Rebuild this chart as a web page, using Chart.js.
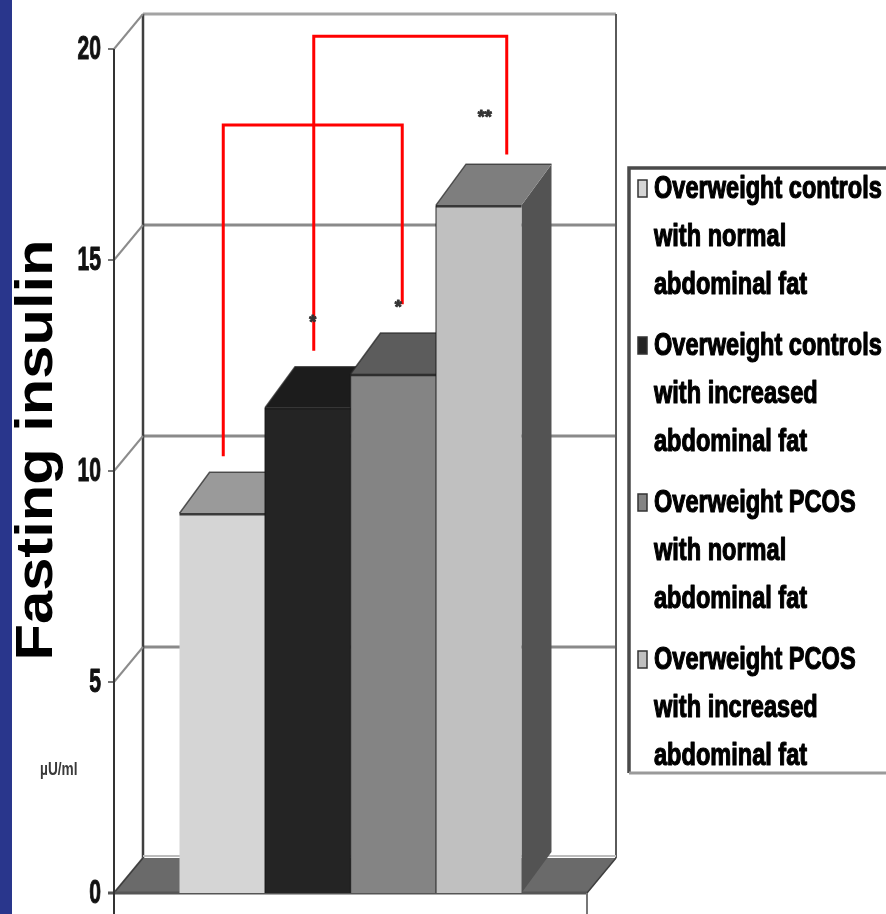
<!DOCTYPE html>
<html>
<head>
<meta charset="utf-8">
<script src="https://cdn.jsdelivr.net/npm/chart.js@4.4.1/dist/chart.umd.min.js"></script>
<style>
  html, body { margin: 0; padding: 0; background: #ffffff; overflow: hidden; }
  canvas { display: block; }
</style>
</head>
<body>
<canvas id="chart" width="886" height="914"></canvas>
<script>
// ---- data ----
const categories = [''];
const seriesNameLines = [
  ['Overweight controls', 'with normal', 'abdominal fat'],
  ['Overweight controls', 'with increased', 'abdominal fat'],
  ['Overweight PCOS', 'with normal', 'abdominal fat'],
  ['Overweight PCOS', 'with increased', 'abdominal fat']
];
const insulinValues = [9.0, 11.5, 12.3, 16.3];   // µU/ml
const tickValues = [0, 5, 10, 15, 20];
const axisTitle = 'Fasting insulin';
const unitLabel = 'µU/ml';

// significance brackets: bar indices, bracket level, leg end levels (µU/ml)
const bracketPairs = [[0, 2], [1, 3]];
const bracketLevels = [18.2, 20.3];
const bracketLegEnds = [[10.35, 13.95], [12.85, 17.5]];
// asterisks above columns
const starBars = [1, 2, 3];
const starTexts = ['*', '*', '**'];
const starLevels = [13.6, 13.95, 18.45];

// ---- styling ----
const frontColors = ['#d5d5d5', '#242424', '#848484', '#c0c0c0'];
const topColors   = ['#9a9a9a', '#1c1c1c', '#5c5c5c', '#7e7e7e'];
const sideColors  = ['#6e6e6e', '#161616', '#4a4a4a', '#535353'];
const WALL = { dx: 29, dy: 35 };      // recession of back wall / floor
const COL  = { dx: 30, dy: 41 };      // recession of column tops and sides
const bracketLegShift = [[1, 9], [6, 28]];
const starShift = [5, 5, 6];
const SANS = '"Liberation Sans", Arial, Helvetica, sans-serif';

function squeezedText(ctx, text, x, y, font, sx, align, heavy) {
  ctx.save();
  ctx.font = font;
  ctx.textAlign = align || 'left';
  ctx.translate(x, y);
  ctx.scale(sx, 1);
  if (heavy) {
    ctx.strokeStyle = ctx.fillStyle;
    ctx.lineWidth = heavy;
    ctx.lineJoin = 'round';
    ctx.strokeText(text, 0, 0);
  }
  ctx.fillText(text, 0, 0);
  ctx.restore();
}

const scene3d = {
  id: 'scene3d',
  beforeDraw(chart) {
    const { ctx, chartArea: a, scales: { y } } = chart;
    const y0 = y.getPixelForValue(0);
    const yTop = y.getPixelForValue(20);
    const bl = a.left + WALL.dx, br = a.right + WALL.dx;
    ctx.save();
    // left blue band
    ctx.fillStyle = '#29368c';
    ctx.fillRect(0, 0, 12, chart.height);

    // back wall grid lines
    tickValues.forEach(v => {
      const yb = y.getPixelForValue(v) - WALL.dy;
      if (v === 0) return;
      ctx.strokeStyle = v === 20 ? '#a3a3a3' : '#8a8a8a';
      ctx.lineWidth = 3;
      ctx.beginPath(); ctx.moveTo(bl, yb); ctx.lineTo(br, yb); ctx.stroke();
    });
    // back wall edges
    ctx.strokeStyle = '#3f3f3f'; ctx.lineWidth = 2.5;
    ctx.beginPath(); ctx.moveTo(bl, yTop - WALL.dy); ctx.lineTo(bl, y0 - WALL.dy); ctx.stroke();
    ctx.strokeStyle = '#5a5a5a'; ctx.lineWidth = 2;
    ctx.beginPath(); ctx.moveTo(br, yTop - WALL.dy); ctx.lineTo(br, y0 - WALL.dy); ctx.stroke();

    // side wall depth ticks
    tickValues.forEach(v => {
      const yf = y.getPixelForValue(v);
      ctx.strokeStyle = '#8c8c8c'; ctx.lineWidth = 2;
      ctx.beginPath(); ctx.moveTo(a.left, yf); ctx.lineTo(bl, yf - WALL.dy); ctx.stroke();
      ctx.strokeStyle = '#777'; ctx.lineWidth = 2;
      ctx.beginPath(); ctx.moveTo(a.left - 6, yf); ctx.lineTo(a.left, yf); ctx.stroke();
    });

    // floor
    ctx.fillStyle = '#6a6a6a';
    ctx.beginPath();
    ctx.moveTo(a.left, y0); ctx.lineTo(a.right, y0);
    ctx.lineTo(br, y0 - WALL.dy); ctx.lineTo(bl, y0 - WALL.dy);
    ctx.closePath(); ctx.fill();
    ctx.strokeStyle = '#bdbdbd'; ctx.lineWidth = 2;
    ctx.beginPath(); ctx.moveTo(bl, y0 - WALL.dy - 2); ctx.lineTo(br, y0 - WALL.dy - 2); ctx.stroke();
    ctx.strokeStyle = '#3e3e3e'; ctx.lineWidth = 1.5;
    ctx.beginPath(); ctx.moveTo(a.left, y0); ctx.lineTo(bl, y0 - WALL.dy); ctx.stroke();
    ctx.beginPath(); ctx.moveTo(a.right, y0); ctx.lineTo(br, y0 - WALL.dy); ctx.stroke();
    ctx.strokeStyle = '#555'; ctx.lineWidth = 3;
    ctx.beginPath(); ctx.moveTo(a.left - 6, y0); ctx.lineTo(a.right, y0); ctx.stroke();
    ctx.strokeStyle = '#777'; ctx.lineWidth = 2;
    ctx.beginPath(); ctx.moveTo(a.right, y0); ctx.lineTo(a.right, chart.height); ctx.stroke();

    // front axis line
    ctx.strokeStyle = '#333'; ctx.lineWidth = 2;
    ctx.beginPath(); ctx.moveTo(a.left, yTop); ctx.lineTo(a.left, chart.height); ctx.stroke();
    ctx.restore();
  },
  beforeDatasetsDraw(chart) {
    const { ctx } = chart;
    ctx.save();
    chart.data.datasets.forEach((ds, i) => {
      const el = chart.getDatasetMeta(i).data[0];
      const L = el.x - el.width / 2, R = el.x + el.width / 2, T = el.y, B = el.base;
      // side face
      ctx.fillStyle = sideColors[i];
      ctx.beginPath();
      ctx.moveTo(R, T); ctx.lineTo(R + COL.dx, T - COL.dy);
      ctx.lineTo(R + COL.dx, B - COL.dy); ctx.lineTo(R, B);
      ctx.closePath(); ctx.fill();
      // top face
      ctx.fillStyle = topColors[i];
      ctx.beginPath();
      ctx.moveTo(L, T); ctx.lineTo(R, T);
      ctx.lineTo(R + COL.dx, T - COL.dy); ctx.lineTo(L + COL.dx, T - COL.dy);
      ctx.closePath(); ctx.fill();
      ctx.strokeStyle = 'rgba(40,40,40,0.75)'; ctx.lineWidth = 1.5;
      ctx.beginPath(); ctx.moveTo(L, T); ctx.lineTo(L + COL.dx, T - COL.dy);
      ctx.lineTo(R + COL.dx, T - COL.dy); ctx.stroke();
    });
    ctx.restore();
  },
  afterDatasetsDraw(chart) {
    const { ctx } = chart;
    ctx.save();
    chart.data.datasets.forEach((ds, i) => {
      const el = chart.getDatasetMeta(i).data[0];
      const L = el.x - el.width / 2, R = el.x + el.width / 2;
      ctx.strokeStyle = 'rgba(30,30,30,0.85)'; ctx.lineWidth = 2.5;
      ctx.beginPath(); ctx.moveTo(L, el.y + 1); ctx.lineTo(R, el.y + 1); ctx.stroke();
      if (i > 0) {
        ctx.strokeStyle = 'rgba(20,20,20,0.6)'; ctx.lineWidth = 1.5;
        ctx.beginPath(); ctx.moveTo(L, el.y); ctx.lineTo(L, el.base); ctx.stroke();
      }
    });
    ctx.restore();
  },
  afterDraw(chart) {
    const { ctx, scales: { y } } = chart;
    ctx.save();
    const barAt = i => chart.getDatasetMeta(i).data[0];

    // y tick labels
    ctx.fillStyle = '#111';
    ctx.textBaseline = 'middle';
    y.ticks.forEach(t => {
      squeezedText(ctx, String(t.value), 101, y.getPixelForValue(t.value) + 1,
        'bold 34px ' + SANS, 0.62, 'right', 1);
    });

    // significance brackets
    ctx.strokeStyle = '#ff0000'; ctx.lineWidth = 3; ctx.lineCap = 'butt'; ctx.lineJoin = 'miter';
    bracketPairs.forEach((pair, k) => {
      const xa = barAt(pair[0]).x + bracketLegShift[k][0];
      const xb = barAt(pair[1]).x + bracketLegShift[k][1];
      const yl = y.getPixelForValue(bracketLevels[k]);
      ctx.beginPath();
      ctx.moveTo(xa, y.getPixelForValue(bracketLegEnds[k][0]));
      ctx.lineTo(xa, yl); ctx.lineTo(xb, yl);
      ctx.lineTo(xb, y.getPixelForValue(bracketLegEnds[k][1]));
      ctx.stroke();
    });

    // asterisks
    ctx.fillStyle = '#333';
    ctx.textBaseline = 'middle';
    starBars.forEach((b, k) => {
      squeezedText(ctx, starTexts[k], barAt(b).x + starShift[k], y.getPixelForValue(starLevels[k]) + 4,
        'bold 18px ' + SANS, 1, 'center', 1);
    });

    // axis title
    ctx.fillStyle = '#000';
    ctx.textBaseline = 'alphabetic';
    ctx.font = 'bold 52px ' + SANS;
    const tw = ctx.measureText(axisTitle).width;
    ctx.save();
    ctx.translate(52, 450);
    ctx.rotate(-Math.PI / 2);
    ctx.scale(421 / tw, 1);
    ctx.textAlign = 'center';
    ctx.fillText(axisTitle, 0, 0);
    ctx.restore();

    // unit label
    ctx.fillStyle = '#3a3a3a';
    ctx.textBaseline = 'middle';
    squeezedText(ctx, unitLabel, 40, 770, 'bold 19px ' + SANS, 0.72, 'left');

    // legend
    const lx = 629, ly = 168, lw = 270, lh = 605;
    ctx.fillStyle = '#ffffff';
    ctx.fillRect(lx, ly, lw, lh);
    ctx.strokeStyle = '#4a4a4a'; ctx.lineWidth = 3.5;
    ctx.beginPath(); ctx.moveTo(lx, ly + lh); ctx.lineTo(lx, ly); ctx.lineTo(lx + lw, ly); ctx.stroke();
    ctx.strokeStyle = '#9a9a9a'; ctx.lineWidth = 3;
    ctx.beginPath(); ctx.moveTo(lx, ly + lh); ctx.lineTo(lx + lw, ly + lh); ctx.stroke();

    ctx.textBaseline = 'middle';
    chart.data.datasets.forEach((ds, i) => {
      const y1 = 188 + i * 157;
      ctx.fillStyle = frontColors[i];
      ctx.fillRect(638, y1 - 8, 9, 17);
      ctx.strokeStyle = '#333'; ctx.lineWidth = 1.5;
      ctx.strokeRect(638, y1 - 8, 9, 17);
      ctx.fillStyle = '#000';
      seriesNameLines[i].forEach((line, j) => {
        squeezedText(ctx, line, 654, y1 + j * 48 + 1, 'bold 31px ' + SANS, 0.76, 'left', 1.2);
      });
    });
    ctx.restore();
  }
};

new Chart(document.getElementById('chart'), {
  type: 'bar',
  data: {
    labels: categories,
    datasets: insulinValues.map((v, i) => ({
      label: seriesNameLines[i].join(' '),
      data: [v],
      backgroundColor: frontColors[i],
      borderWidth: 0,
      categoryPercentage: 0.723,
      barPercentage: 1.0
    }))
  },
  options: {
    responsive: false,
    animation: false,
    events: [],
    layout: { padding: { left: 0, top: 49, right: 299, bottom: 21 } },
    plugins: { legend: { display: false }, tooltip: { enabled: false }, title: { display: false } },
    scales: {
      x: { display: false, offset: true },
      y: {
        min: 0, max: 20,
        afterFit(scale) { scale.width = 114; },
        afterBuildTicks(scale) { scale.ticks = tickValues.map(v => ({ value: v })); },
        grid: { display: false, drawTicks: false },
        border: { display: false },
        ticks: { display: false }
      }
    }
  },
  plugins: [scene3d]
});
</script>
</body>
</html>
